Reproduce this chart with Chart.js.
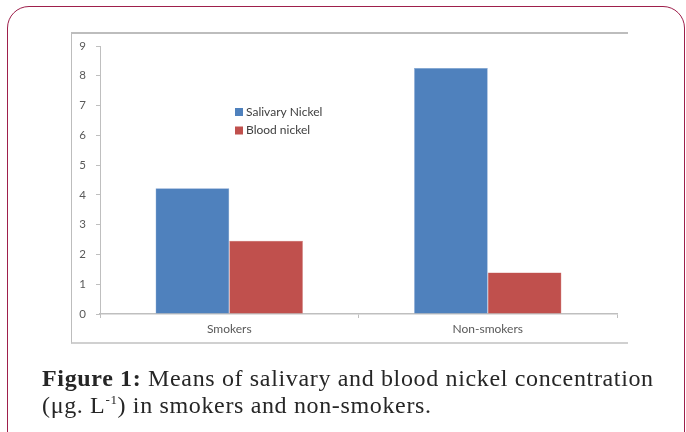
<!DOCTYPE html>
<html>
<head>
<meta charset="utf-8">
<script src="https://cdn.jsdelivr.net/npm/chart.js@4/dist/chart.umd.min.js"></script>
<style>
  html, body { margin: 0; padding: 0; background: #fff; }
  #wrap { position: relative; width: 686px; height: 432px; overflow: hidden; }
  #frame {
    position: absolute; left: 7px; top: 6px; width: 678px; height: 460px;
    border: 1.5px solid #9e1f4b; border-radius: 22px; box-sizing: border-box;
  }
  #box {
    position: absolute; left: 71px; top: 32px; width: 557px; height: 312px;
    border-top: 2px solid #bdbdbd; border-left: 1.5px solid #bdbdbd; border-bottom: 2px solid #d0d0d0;
    box-sizing: border-box;
  }
  #c { position: absolute; left: 0; top: 0; }
  #caption {
    position: absolute; left: 42px; top: 365px; width: 644px;
    font-family: "Liberation Serif", serif; font-size: 24px; line-height: 27px;
    letter-spacing: 0.65px; color: #262626; white-space: nowrap;
  }
  #caption b { font-weight: bold; }
  #caption sup { font-size: 13px; vertical-align: 9px; line-height: 0; }
</style>
</head>
<body>
<div id="wrap">
  <div id="frame"></div>
  <div id="box"></div>
  <canvas id="c" width="686" height="432"></canvas>
  <div id="caption"><b>Figure 1:</b> Means of salivary and blood nickel concentration<br>(μg. L<sup>-1</sup>) in smokers and non-smokers.</div>
</div>
<script>
// Groups and mean nickel concentrations (µg/L)
const categories = ["Smokers", "Non-smokers"];
const salivaryNickel = [4.22, 8.26];
const bloodNickel = [2.46, 1.39];
const yTicks = [0, 1, 2, 3, 4, 5, 6, 7, 8, 9];

const seriesNames = ["Salivary Nickel", "Blood nickel"];
const seriesColors = ["#4f81bd", "#c0504d"];

// Legend drawn inside the plot area
const innerLegend = {
  id: "innerLegend",
  afterDraw(chart) {
    const ctx = chart.ctx;
    ctx.save();
    ctx.font = "12px Lato, sans-serif";
    ctx.textBaseline = "middle";
    chart.data.datasets.forEach((ds, i) => {
      const y = 112 + i * 18.5;
      ctx.fillStyle = ds.backgroundColor;
      ctx.fillRect(235, y - 4, 8, 8);
      ctx.fillStyle = "#404040";
      ctx.fillText(ds.label, 246, y);
    });
    ctx.restore();
  }
};

new Chart(document.getElementById("c"), {
  type: "bar",
  data: {
    labels: categories,
    datasets: [
      { label: seriesNames[0], data: salivaryNickel, backgroundColor: seriesColors[0],
        borderColor: "#7da0cf", borderWidth: 0.5 },
      { label: seriesNames[1], data: bloodNickel, backgroundColor: seriesColors[1],
        borderColor: "#d07875", borderWidth: 0.5 }
    ]
  },
  options: {
    responsive: false,
    animation: false,
    events: [],
    datasets: { bar: { categoryPercentage: 0.57, barPercentage: 1.0 } },
    layout: { padding: { left: 72, right: 69, top: 46, bottom: 88 } },
    plugins: { legend: { display: false }, tooltip: { enabled: false } },
    scales: {
      x: {
        grid: { display: true, offset: true, drawOnChartArea: false, drawTicks: true, tickLength: 4, color: "#bfbfbf" },
        border: { display: true, color: "#bfbfbf", width: 1.5 },
        ticks: { padding: 4, color: "#595959", font: { family: "Lato, sans-serif", size: 12 } },
        afterFit(s) { s.height = 30; }
      },
      y: {
        min: 0, max: 9,
        afterBuildTicks(s) { s.ticks = yTicks.map(v => ({ value: v })); },
        grid: { display: true, drawOnChartArea: false, drawTicks: true, tickLength: 4, color: "#bfbfbf" },
        border: { display: true, color: "#bfbfbf", width: 1 },
        ticks: { padding: 10, color: "#595959", font: { family: "Lato, sans-serif", size: 11.5 } },
        afterFit(s) { s.width = 28; }
      }
    }
  },
  plugins: [innerLegend]
});
</script>
</body>
</html>
